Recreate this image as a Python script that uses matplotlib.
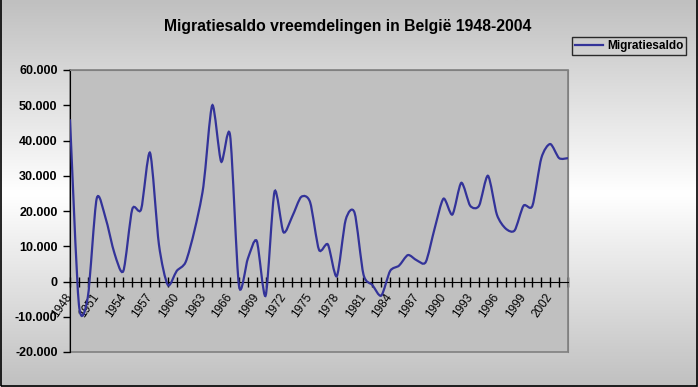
import numpy as np
import matplotlib
matplotlib.use("Agg")
import matplotlib.pyplot as plt
from matplotlib.path import Path
from matplotlib.patches import PathPatch, Rectangle
from matplotlib.lines import Line2D
from matplotlib.ticker import FuncFormatter

# jaarlijks migratiesaldo vreemdelingen
jaren = list(range(1948, 2005))
saldo = [46000, -6500, -4500, 23500, 18000, 8000, 3000, 20500, 20500, 36500,
         10500, -1000, 3000, 5500, 14500, 27000, 50000, 34000, 41500, -1200,
         6500, 11500, -4000, 25500, 14000, 18500, 24000, 22500, 9000, 10500,
         1500, 17500, 19500, 2000, -1000, -4000, 3000, 4500, 7500, 6000,
         5500, 15000, 23500, 19000, 28000, 21500, 21500, 30000, 19000, 15000,
         14500, 21500, 21500, 35000, 39000, 35000, 35000]
label_jaren = [j if (j - 1948) % 3 == 0 else None for j in jaren]

titel = "Migratiesaldo vreemdelingen in België 1948-2004"
reeks = "Migratiesaldo"

plt.rcParams['font.family'] = ['Liberation Sans', 'DejaVu Sans']

W, H = 698, 387
fig = plt.figure(figsize=(W / 100, H / 100), dpi=100)

# achtergrond met verloop grijs - wit - grijs (van boven naar onder)
bg = fig.add_axes([0, 0, 1, 1], zorder=-10)
t = np.linspace(0, 1, 256)
grijs = 1 - (1 - 192 / 255) * np.abs(2 * t - 1)
bg.imshow(np.repeat(grijs[:, None, None], 3, axis=2), aspect='auto', extent=[0, 1, 0, 1])
bg.axis('off')

ax = fig.add_axes([70 / W, (H - 352) / H, 498 / W, 282 / H])
ax.set_facecolor('#c0c0c0')

# vloeiende lijn zoals Excel (bezier door de jaarpunten)
k = 0.13
x = np.array(jaren, dtype=float)
y = np.array(saldo, dtype=float)
n = len(x)
verts = [(x[0], y[0])]
codes = [Path.MOVETO]
for i in range(n - 1):
    p0 = np.array([x[max(i - 1, 0)], y[max(i - 1, 0)]])
    p1 = np.array([x[i], y[i]])
    p2 = np.array([x[i + 1], y[i + 1]])
    p3 = np.array([x[min(i + 2, n - 1)], y[min(i + 2, n - 1)]])
    c1 = p1 + (p2 - p0) * k
    c2 = p2 - (p3 - p1) * k
    verts += [tuple(c1), tuple(c2), tuple(p2)]
    codes += [Path.CURVE4] * 3
ax.add_patch(PathPatch(Path(verts, codes), facecolor='none', edgecolor='#333399', lw=1.6, zorder=5))

ax.set_xlim(1948, 2004)
ax.set_ylim(-20000, 60000)

for s in ['top', 'right']:
    ax.spines[s].set_color('#808080')
ax.spines['left'].set_color('black')
ax.spines['bottom'].set_position(('data', 0))
ax.spines['bottom'].set_color('black')
ax.add_patch(Rectangle((0, 0), 1, 1, transform=ax.transAxes, fill=False,
                       edgecolor='#808080', lw=1.2, clip_on=False, zorder=0))

ax.set_yticks(range(-20000, 60001, 10000))
ax.yaxis.set_major_formatter(FuncFormatter(lambda v, p: f"{int(v):,}".replace(',', '.')))
ax.tick_params(axis='y', direction='out', length=5, width=1, labelsize=9, pad=4)
for lab in ax.get_yticklabels():
    lab.set_fontweight('bold')

ax.set_xticks(jaren)
ax.set_xticklabels(['' if j is None else str(j) for j in label_jaren],
                   rotation=55, ha='right', va='center', rotation_mode='anchor')
ax.tick_params(axis='x', direction='inout', length=7, width=1, labelsize=8.5, pad=6)

fig.text(348 / W, 1 - 27 / H, titel, ha='center', va='center', fontsize=11.3, fontweight='bold')

leg = ax.legend([Line2D([], [], color='#333399', lw=1.6)], [reeks],
                loc='upper left', bbox_to_anchor=(572 / W, 1 - 37 / H), bbox_transform=fig.transFigure,
                frameon=True, fancybox=False, edgecolor='black', facecolor='none',
                prop={'weight': 'bold', 'size': 8.5}, handlelength=2.4, handletextpad=0.3,
                borderpad=0.25, borderaxespad=0)
leg.get_frame().set_linewidth(1)

# rand om de grafiek
fig.add_artist(Rectangle((0.5 / W, 1.5 / H), 696 / W, 2, transform=fig.transFigure,
                         fill=False, edgecolor='black', lw=1.2))

fig.savefig('out.png', dpi=100)
